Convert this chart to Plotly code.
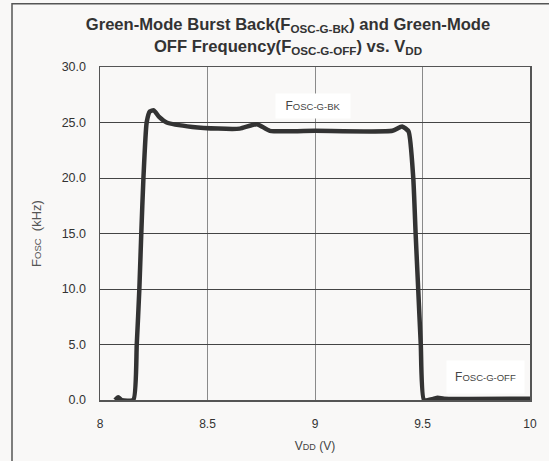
import plotly.graph_objects as go

vdd = [8.07, 8.085, 8.10, 8.155, 8.171, 8.183, 8.192, 8.202, 8.217, 8.232, 8.250, 8.275,
       8.31, 8.43, 8.55, 8.65, 8.73, 8.79, 9.0, 9.36, 9.405, 9.435, 9.457, 9.468, 9.48,
       9.492, 9.507, 9.55, 9.57, 9.6, 10.0]
fosc = [0.0, 0.25, 0.0, 0.0, 5.0, 10.0, 15.0, 20.0, 25.0, 26.0, 26.1, 25.5,
        25.0, 24.6, 24.45, 24.45, 24.85, 24.25, 24.25, 24.25, 24.65, 24.2, 20.0, 15.0, 10.0,
        5.0, 0.0, 0.1, 0.2, 0.12, 0.12]

x_ticks = [8, 8.5, 9, 9.5, 10]
x_tick_labels = ["8", "8.5", "9", "9.5", "10"]
y_ticks = [0, 5, 10, 15, 20, 25, 30]
y_tick_labels = ["0.0", "5.0", "10.0", "15.0", "20.0", "25.0", "30.0"]

BG = "#f9f8f7"
FONT = "Liberation Sans, Arial, sans-serif"

fig = go.Figure()
fig.add_trace(go.Scatter(
    x=vdd, y=fosc, mode="lines",
    line=dict(color="#333333", width=4.5, shape="spline", smoothing=0.5),
    hoverinfo="skip", showlegend=False,
))

fig.update_layout(
    width=549, height=461,
    margin=dict(l=100, r=19, t=67, b=61),
    paper_bgcolor=BG, plot_bgcolor=BG,
    font=dict(family=FONT, color="#333333", size=12),
    title=dict(
        text="<b>Green-Mode Burst Back(F<sub>OSC-G-BK</sub>) and Green-Mode<br>"
             "OFF Frequency(F<sub>OSC-G-OFF</sub>) vs. V<sub>DD</sub></b>",
        x=288 / 549, xref="container", xanchor="center",
        y=0.935, yanchor="top",
        font=dict(family=FONT, size=16.6, color="#333333"),
    ),
    xaxis=dict(
        range=[8, 10], tickvals=x_ticks, ticktext=x_tick_labels,
        showgrid=True, gridcolor="#8a8a8a", gridwidth=1,
        showline=True, linecolor="#555555", linewidth=1.5, mirror=True,
        zeroline=False, ticks="", ticklabelstandoff=12,
        tickfont=dict(size=12, color="#333333"),
        title=dict(text="V<span style='font-size:9px'>DD</span> (V)",
                   font=dict(size=12, color="#444444"), standoff=11),
    ),
    yaxis=dict(
        range=[0, 30], tickvals=y_ticks, ticktext=y_tick_labels,
        showgrid=True, gridcolor="#444444", gridwidth=1,
        showline=True, linecolor="#555555", linewidth=1.5, mirror=True,
        zeroline=False, ticks="", ticklabelstandoff=10,
        tickfont=dict(size=12.5, color="#333333"),
        title=dict(text="F<span style='font-size:9.5px'>OSC</span>  (kHz)",
                   font=dict(size=13, color="#555555"), standoff=17),
    ),
    annotations=[
        dict(x=(313 - 100) / 430 * 2 + 8, y=(400 - 106) / 11.1, xref="x", yref="y",
             text="F<span style='font-size:9.5px'>OSC-G-BK</span>", showarrow=False,
             bgcolor="white", font=dict(size=12, color="#444444"),
             width=72, height=22),
        dict(x=(485 - 100) / 430 * 2 + 8, y=(400 - 377) / 11.1, xref="x", yref="y",
             text="F<span style='font-size:9.5px'>OSC-G-OFF</span>", showarrow=False,
             bgcolor="white", font=dict(size=12, color="#444444"),
             width=75, height=30),
    ],
    shapes=[
        dict(type="rect", xref="paper", yref="paper",
             x0=(12 - 100) / 430, x1=(560 - 100) / 430,
             y0=(400 - 470) / 333.3, y1=(400 - 3.5) / 333.3,
             line=dict(color="#555555", width=1.5), fillcolor="rgba(0,0,0,0)", layer="below"),
    ],
)

fig.write_html("out.html", config={"displayModeBar": False, "staticPlot": True})

with open("out.html", "r", encoding="utf-8") as f:
    html = f.read()
html = html.replace("<body>", "<body style=\"margin:0;padding:0;overflow:hidden\">", 1)
with open("out.html", "w", encoding="utf-8") as f:
    f.write(html)
